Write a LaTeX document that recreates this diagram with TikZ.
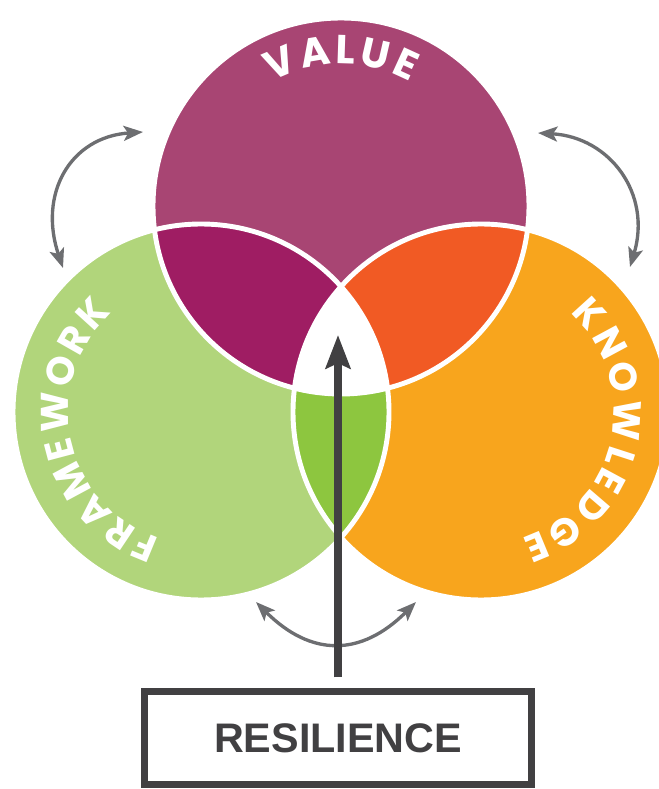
\documentclass[tikz,border=0pt]{standalone}
\usepackage{fontspec}
\newfontfamily\arcfont{Poppins}
\newfontfamily\boxfont{Liberation Sans}
\usetikzlibrary{arrows.meta,decorations.text}
\definecolor{valuecol}{HTML}{A84573}
\definecolor{frameworkcol}{HTML}{B1D57B}
\definecolor{knowledgecol}{HTML}{F8A51D}
\definecolor{vfcol}{HTML}{9F1D63}
\definecolor{vkcol}{HTML}{F15A24}
\definecolor{fkcol}{HTML}{8DC63F}
\definecolor{twowaycol}{HTML}{6D6E71}
\definecolor{inkcol}{HTML}{414042}
\tikzstyle{rim}=[white,line width=2.8pt]
\tikzstyle{twoway}=[{Stealth[length=11pt,width=8.5pt,inset=2.5pt]}-{Stealth[length=11pt,width=8.5pt,inset=2.5pt]},twowaycol,line width=1.9pt]
\tikzstyle{rise}=[-{Stealth[length=19pt,width=14pt,inset=3pt]},inkcol,line width=4pt]
\tikzstyle{resbox}=[rectangle,draw=inkcol,line width=4pt,minimum width=7.74cm,minimum height=1.86cm,text=inkcol,font=\boxfont\bfseries\fontsize{23.5}{24}\selectfont]
\tikzset{arclabel/.style 2 args={decorate,decoration={text along path,text color=white,text align=fit to path,text={|\arcfont\bfseries\fontsize{#1}{#1}\selectfont|#2}}}}
\newcommand\circrad{188}

\begin{document}
\begin{tikzpicture}[x=0.02cm,y=0.02cm]

  \useasboundingbox (0,0) rectangle (659,789);

  \coordinate (V) at (341,583);
  \coordinate (F) at (201,377);
  \coordinate (K) at (481,377);

  \fill[frameworkcol] (F) circle (\circrad);
  \fill[knowledgecol] (K) circle (\circrad);
  \fill[valuecol] (V) circle (\circrad);
  \begin{scope}
    \clip (V) circle (\circrad);
    \fill[vfcol] (F) circle (\circrad);
    \fill[vkcol] (K) circle (\circrad);
  \end{scope}
  \begin{scope}
    \clip (F) circle (\circrad);
    \fill[fkcol] (K) circle (\circrad);
  \end{scope}
  \begin{scope}
    \clip (V) circle (\circrad); \clip (F) circle (\circrad);
    \fill[white] (K) circle (\circrad);
  \end{scope}
  \draw[rim] (V) circle (\circrad); \draw[rim] (F) circle (\circrad); \draw[rim] (K) circle (\circrad);

  \path[arclabel={23}{VALUE}] (V) ++(119:142) arc[start angle=119,end angle=61,radius=142];
  \path[arclabel={22}{FRAMEWORK}] (F) ++(252:133) arc[start angle=252,end angle=132,radius=133];
  \path[arclabel={22}{KNOWLEDGE}] (K) ++(48:133) arc[start angle=48,end angle=-72,radius=133];

  \coordinate (vf1) at (143,657); \coordinate (vf2) at (63,521);
  \coordinate (vk1) at (538,656); \coordinate (vk2) at (630,522);
  \coordinate (fk1) at (256,187); \coordinate (fk2) at (416,187);
  \draw[twoway] (vf2) .. controls (38,595) and (70,652) .. (vf1);
  \draw[twoway] (vk1) .. controls (610,652) and (652,595) .. (vk2);
  \draw[twoway] (fk1) .. controls (311,132) and (361,132) .. (fk2);

  \node[resbox] (res) at (338,51) {RESILIENCE};
  \coordinate (tip) at (338,454);
  \draw[rise,shorten <=6pt] (res.north) -- (tip);

\end{tikzpicture}
\end{document}
